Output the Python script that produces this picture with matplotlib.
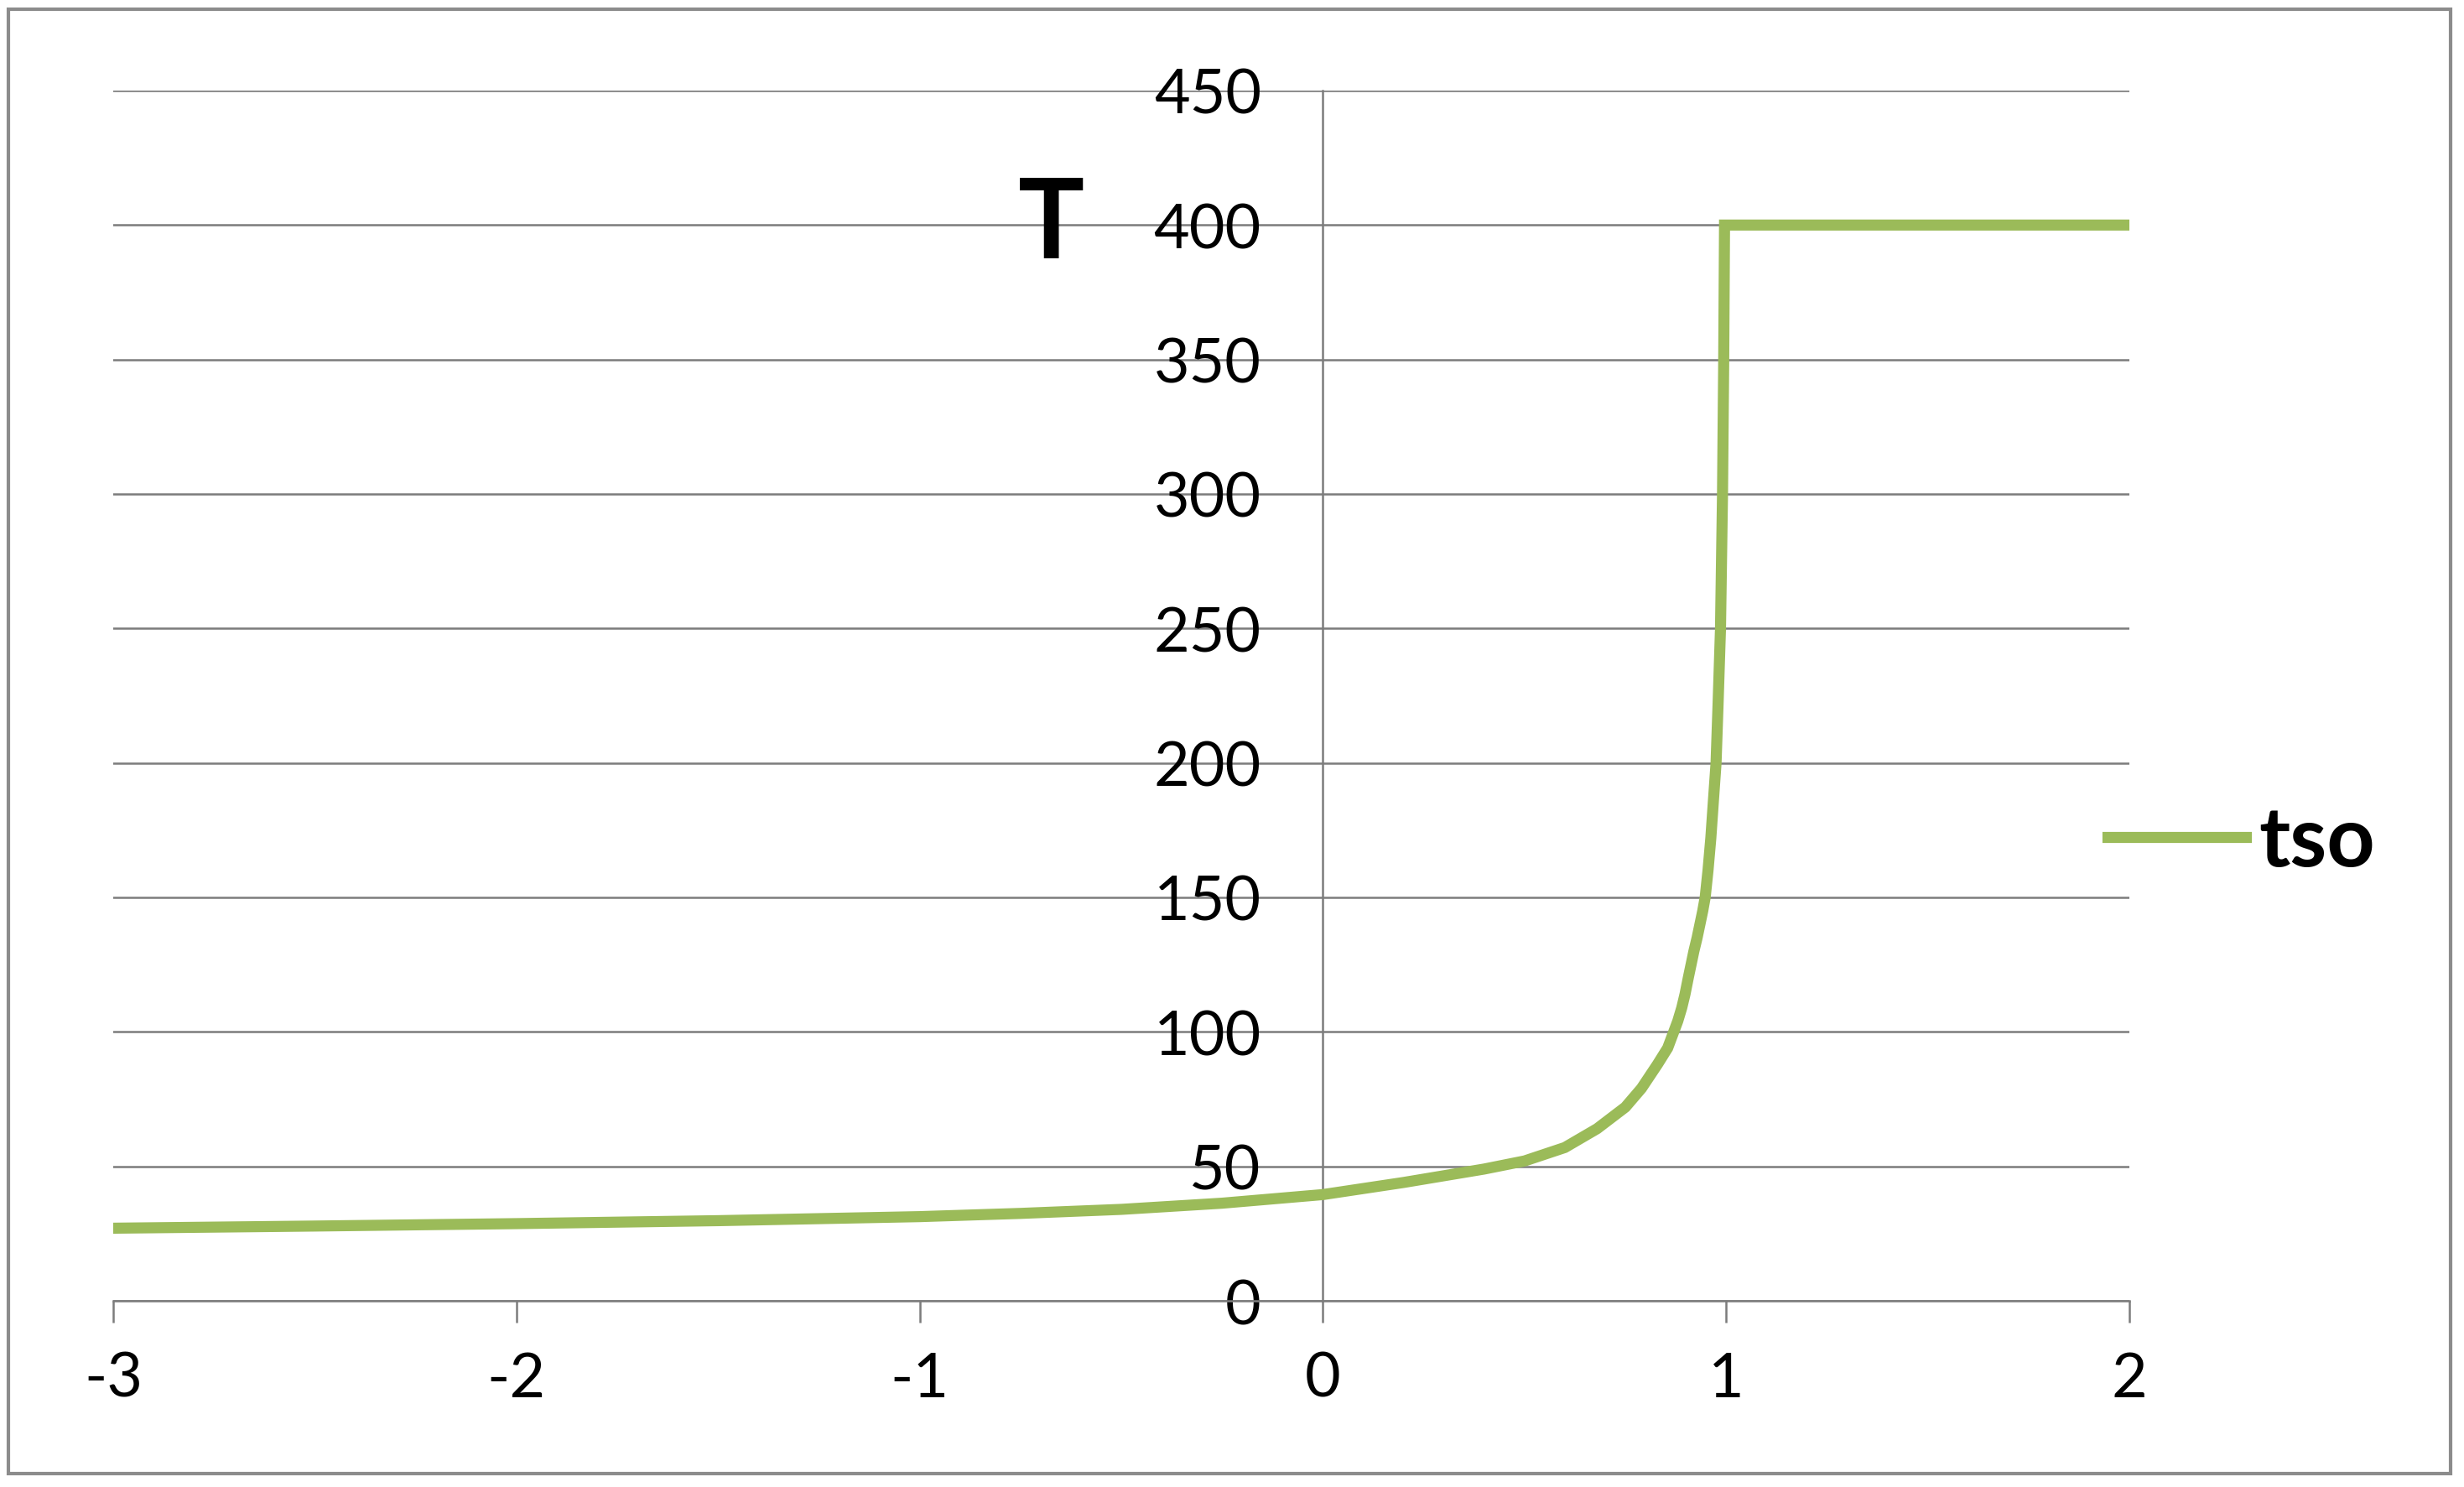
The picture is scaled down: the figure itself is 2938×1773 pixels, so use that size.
import matplotlib
matplotlib.use("Agg")
import matplotlib.pyplot as plt
from matplotlib.patches import Rectangle
from matplotlib.lines import Line2D

# ---- data ----
x_vals = [-3.0, -2.5, -2.0, -1.5, -1.0, -0.75, -0.5, -0.25, 0.0, 0.2, 0.3, 0.4, 0.5,
          0.6, 0.68, 0.75, 0.79, 0.83, 0.855, 0.87, 0.88, 0.89, 0.898, 0.906, 0.913,
          0.92, 0.928, 0.935, 0.942, 0.948, 0.955, 0.962, 0.968, 0.975, 0.98, 0.986,
          0.991, 0.994, 0.996, 1.0, 1.5, 2.0]
t_vals = [27.0, 27.8, 28.7, 29.8, 31.3, 32.5, 34.0, 36.3, 39.5, 44.0, 46.5, 49.0, 52.0,
          57.0, 64.0, 72.0, 79.0, 88.0, 94.0, 100.0, 104.0, 109.0, 114.0, 120.0, 125.0,
          130.0, 135.0, 140.0, 145.0, 150.0, 160.0, 172.0, 185.0, 200.0, 222.0, 250.0,
          300.0, 350.0, 400.0, 400.0, 400.0, 400.0]
x_ticks = [-3, -2, -1, 0, 1, 2]
y_ticks = [0, 50, 100, 150, 200, 250, 300, 350, 400, 450]
series_name = "tso"
y_title = "T"

W, H = 2938, 1774
fig = plt.figure(figsize=(W / 100, H / 100), dpi=100)
fig.patch.set_facecolor("white")

FONT = ["Lato", "DejaVu Sans"]
GRID = "#7c7c7c"
GREEN = "#9BBB59"
LW = 9.5

x0, x1 = 135, 2539
y_top, y_bot = 109, 1552
ax = fig.add_axes([x0 / W, 1 - y_bot / H, (x1 - x0) / W, (y_bot - y_top) / H])
ax.set_xlim(-3, 2)
ax.set_ylim(0, 450)

for s in ["top", "right"]:
    ax.spines[s].set_visible(False)
ax.spines["left"].set_position(("data", 0))
ax.spines["left"].set_color(GRID)
ax.spines["left"].set_linewidth(1.8)
ax.spines["bottom"].set_color(GRID)
ax.spines["bottom"].set_linewidth(1.8)

ax.set_xticks(x_ticks)
ax.set_xticklabels([str(v) for v in x_ticks])
ax.set_yticks(y_ticks)
ax.set_yticklabels([str(v) for v in y_ticks])
ax.tick_params(axis="x", direction="out", length=19, width=1.8, color=GRID,
               pad=24, labelsize=53)
ax.tick_params(axis="y", length=0, pad=53, labelsize=53)
for lab in ax.get_xticklabels() + ax.get_yticklabels():
    lab.set_family(FONT)
    lab.set_color("black")

ax.yaxis.grid(True, color=GRID, linewidth=1.8)
ax.set_axisbelow(True)

ax.plot(x_vals, t_vals, color=GREEN, linewidth=LW, solid_joinstyle="miter",
        label=series_name, zorder=3)

# y title
fig.text(1254 / W, 1 - 308 / H, y_title, ha="center", va="baseline",
         fontsize=95, fontweight="bold", family=FONT)

# legend
handle = Line2D([], [], color=GREEN, linewidth=LW)
fig.legend([handle], [series_name], loc="center left",
           bbox_to_anchor=(2513 / W, 1 - 1005 / H), frameon=False,
           prop={"family": FONT, "weight": "bold", "size": 72},
           handlelength=1.65, handletextpad=0.15, borderpad=0, borderaxespad=0)

# outer frame
fig.patches.append(Rectangle((10 / W, 1 - 1758 / H), (2922 - 10) / W, (1758 - 12) / H,
                             transform=fig.transFigure, fill=False,
                             edgecolor="#8c8c8c", linewidth=3))

fig.savefig("out.png", dpi=100, facecolor="white")
